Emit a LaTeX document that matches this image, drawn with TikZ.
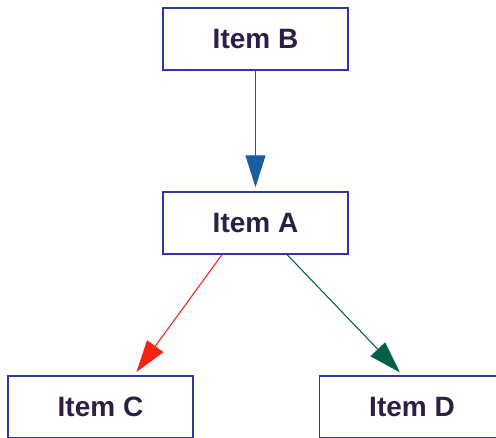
\documentclass[tikz,border=0pt]{standalone}
\usepackage{fontspec}
\setmainfont{Liberation Sans}
\usetikzlibrary{arrows.meta,calc}
\definecolor{boxline}{HTML}{3434A2}
\definecolor{boxtext}{HTML}{2D1F44}
\definecolor{arrblue}{HTML}{1C5DA2}
\definecolor{arrred}{HTML}{F42414}
\definecolor{arrgreen}{HTML}{00604A}

\begin{document}
\begin{tikzpicture}[x=0.75pt,y=-0.75pt,
  item/.style={draw=boxline, line width=1.1pt, fill=white, minimum width=138.75pt, minimum height=46.5pt,
    text=boxtext, font=\fontsize{21}{24}\selectfont\bfseries},
  link/.style={line width=0.8pt, shorten >=3pt, -{Triangle[length=24pt,width=15pt]}}]

\useasboundingbox (0,0) rectangle (496,437);
\clip (0,0) rectangle (496,437);

\node[item] (B) at (255.5,39) {Item B};
\node[item] (A) at (255.5,223) {Item A};
\node[item] (C) at (100.5,407) {Item C};
\node[item] (D) at (412,407) {Item D};

\draw [link, arrblue] (B) -- (A);
\draw [link, arrred] ($(A.south west)!0.32!(A.south east)$) -- ($(C.north west)!0.68!(C.north east)$);
\draw [link, arrgreen] ($(A.south west)!0.67!(A.south east)$) -- ($(D.north west)!0.45!(D.north east)$);

\end{tikzpicture}
\end{document}
